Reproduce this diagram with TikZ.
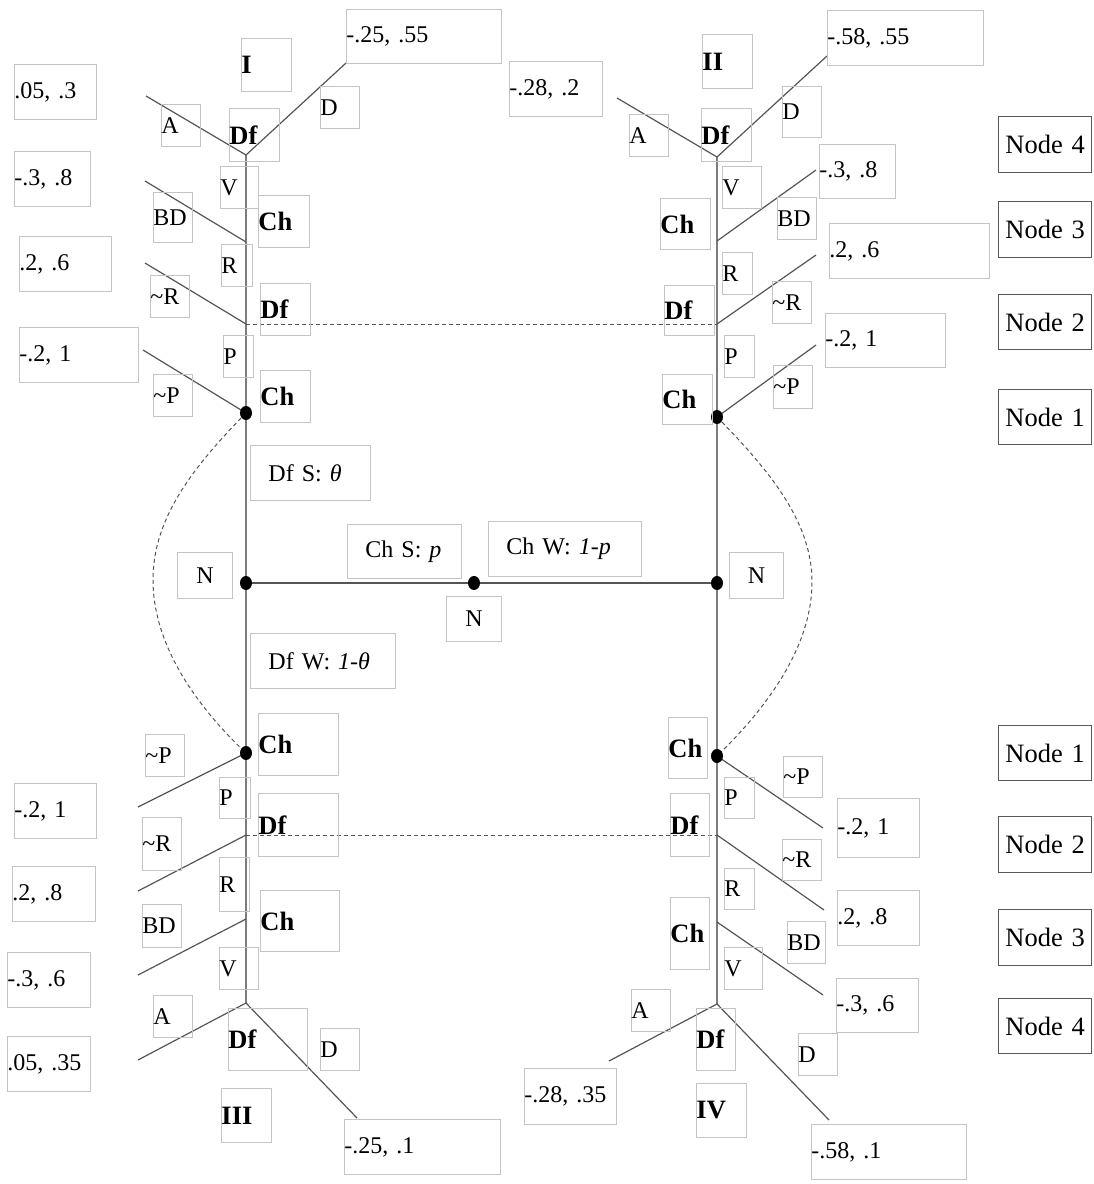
\documentclass[tikz,border=0pt]{standalone}
\usepackage{fontspec}
\setmainfont{Liberation Serif}
\definecolor{boxgray}{RGB}{196,196,196}
\definecolor{linegray}{RGB}{85,85,85}
\definecolor{trunkgray}{RGB}{125,125,125}
\begin{document}
\begin{tikzpicture}[x=1pt,y=-1pt,
	lbl/.style={draw=boxgray, line width=0.9pt, anchor=north west, inner xsep=0pt, inner ysep=0pt, align=left, font=\fontsize{24}{28}\selectfont},
	bld/.style={lbl, font=\fontsize{26.5}{30}\selectfont\bfseries},
	mid/.style={lbl, inner xsep=18pt},
	ctr/.style={lbl, align=center},
	stage/.style={draw=black!65, line width=1.4pt, anchor=north west, inner xsep=0pt, inner ysep=0pt, align=center, font=\fontsize{26.5}{30}\selectfont},
	branch/.style={linegray, line width=1.2pt},
	trunk/.style={trunkgray, line width=2pt},
	link/.style={linegray, line width=1pt, dash pattern=on 4pt off 3pt}]
	\useasboundingbox (0,0) rectangle (1094,1184);
	%
	% junctions and ends, tree I
	\coordinate (IDf) at (246,155);
	\coordinate (IA) at (146,96);
	\coordinate (ID) at (346,63);
	\coordinate (IBD) at (246,242);
	\coordinate (IBDe) at (145,181);
	\coordinate (IR) at (246,324);
	\coordinate (IRe) at (145,263);
	\coordinate (IP) at (246,413);
	\coordinate (IPe) at (143,350);
	% tree II
	\coordinate (IIDf) at (717,157);
	\coordinate (IIA) at (617,98);
	\coordinate (IID) at (827,56);
	\coordinate (IIBD) at (717,241);
	\coordinate (IIBDe) at (816,170);
	\coordinate (IIR) at (717,324);
	\coordinate (IIRe) at (816,255);
	\coordinate (IIP) at (717,417);
	\coordinate (IIPe) at (816,345);
	% tree III
	\coordinate (IIIP) at (246,753);
	\coordinate (IIIPe) at (138,807);
	\coordinate (IIIR) at (246,835);
	\coordinate (IIIRe) at (138,891);
	\coordinate (IIIBD) at (246,919);
	\coordinate (IIIBDe) at (138,975);
	\coordinate (IIIDf) at (246,1003);
	\coordinate (IIIA) at (138,1060);
	\coordinate (IIID) at (357,1118);
	% tree IV
	\coordinate (IVP) at (717,756);
	\coordinate (IVPe) at (823,828);
	\coordinate (IVR) at (717,835);
	\coordinate (IVRe) at (824,910);
	\coordinate (IVBD) at (717,922);
	\coordinate (IVBDe) at (823,995);
	\coordinate (IVDf) at (717,1004);
	\coordinate (IVA) at (609,1061);
	\coordinate (IVD) at (829,1120);
	% nature
	\coordinate (NI) at (246,583);
	\coordinate (NII) at (717,583);
	\coordinate (Nc) at (474,583);
	%
	\draw[trunk] (IDf) -- (IIIDf);
	\draw[trunk] (IIDf) -- (IVDf);
	\draw[linegray, line width=2pt] (NI) -- (NII);
	%
	\draw[branch] (IA) -- (IDf) -- (ID);
	\draw[branch] (IBDe) -- (IBD);
	\draw[branch] (IRe) -- (IR);
	\draw[branch] (IPe) -- (IP);
	\draw[branch] (IIA) -- (IIDf) -- (IID);
	\draw[branch] (IIBD) -- (IIBDe);
	\draw[branch] (IIR) -- (IIRe);
	\draw[branch] (IIP) -- (IIPe);
	\draw[branch] (IIIP) -- (IIIPe);
	\draw[branch] (IIIR) -- (IIIRe);
	\draw[branch] (IIIBD) -- (IIIBDe);
	\draw[branch] (IIIA) -- (IIIDf) -- (IIID);
	\draw[branch] (IVP) -- (IVPe);
	\draw[branch] (IVR) -- (IVRe);
	\draw[branch] (IVBD) -- (IVBDe);
	\draw[branch] (IVA) -- (IVDf) -- (IVD);
	%
	\draw[link] (IR) -- (IIR);
	\draw[link] (IIIR) -- (IVR);
	\draw[link] (IP) .. controls (190,470) and (153,520) .. (153,580) .. controls (153,640) and (190,700) .. (IIIP);
	\draw[link] (IIP) .. controls (773,474) and (812,524) .. (812,582) .. controls (812,642) and (773,702) .. (IVP);
	%
	\foreach \p in {IP,IIP,IIIP,IVP,NI,NII,Nc}
		\fill (\p) ellipse (6pt and 7pt);
	%
	% tree I
	\node[lbl, text width=82pt, minimum height=55pt] (payIA) at (14,64) {.05, .3};
	\node[lbl, text width=155pt, minimum height=54pt] (payID) at (346,9) {-.25, .55};
	\node[bld, text width=50pt, minimum height=53pt] (nameI) at (241,38) {I};
	\node[lbl, text width=39pt, minimum height=42pt] (lID) at (320,86) {D};
	\node[lbl, text width=39pt, minimum height=42pt] (lIA) at (161,104) {A};
	\node[bld, text width=50pt, minimum height=53pt] (mvI4) at (229,108) {Df};
	\node[lbl, text width=76pt, minimum height=55pt] (payIBD) at (14,151) {-.3, .8};
	\node[lbl, text width=38pt, minimum height=42pt] (lIV) at (220,166) {V};
	\node[bld, text width=51pt, minimum height=52pt] (mvI3) at (258,195) {Ch};
	\node[lbl, text width=39pt, minimum height=50pt] (lIBD) at (153,192) {BD};
	\node[lbl, text width=31pt, minimum height=42pt] (lIR) at (221,244) {R};
	\node[lbl, text width=92pt, minimum height=55pt] (payIR) at (19,236) {.2, .6};
	\node[lbl, text width=39pt, minimum height=42pt] (lInR) at (150,275) {\textasciitilde R};
	\node[bld, text width=50pt, minimum height=52pt] (mvI2) at (260,283) {Df};
	\node[lbl, text width=30pt, minimum height=42pt] (lIP) at (223,335) {P};
	\node[lbl, text width=119pt, minimum height=55pt] (payIP) at (19,327) {-.2, 1};
	\node[lbl, text width=39pt, minimum height=42pt] (lInP) at (153,374) {\textasciitilde P};
	\node[bld, text width=50pt, minimum height=52pt] (mvI1) at (260,370) {Ch};
	%
	% nature
	\node[mid, text width=84pt, minimum height=55pt] (pDfS) at (250,445) {Df S: \textit{θ}};
	\node[ctr, text width=55pt, minimum height=46pt] (lNI) at (177,552) {N};
	\node[mid, text width=78pt, minimum height=54pt] (pChS) at (347,524) {Ch S: \textit{p}};
	\node[mid, text width=117pt, minimum height=55pt] (pChW) at (488,521) {Ch W: \textit{1-p}};
	\node[ctr, text width=55pt, minimum height=45pt] (lNc) at (446,596) {N};
	\node[ctr, text width=54pt, minimum height=46pt] (lNII) at (729,552) {N};
	\node[mid, text width=109pt, minimum height=55pt] (pDfW) at (250,633) {Df W: \textit{1-θ}};
	%
	% tree II
	\node[lbl, text width=93pt, minimum height=55pt] (payIIA) at (509,61) {-.28, .2};
	\node[bld, text width=50pt, minimum height=54pt] (nameII) at (702,34) {II};
	\node[lbl, text width=156pt, minimum height=55pt] (payIID) at (827,10) {-.58, .55};
	\node[lbl, text width=39pt, minimum height=42pt] (lIIA) at (629,114) {A};
	\node[bld, text width=50pt, minimum height=53pt] (mvII4) at (701,108) {Df};
	\node[lbl, text width=39pt, minimum height=51pt] (lIID) at (782,86) {D};
	\node[lbl, text width=39pt, minimum height=42pt] (lIIV) at (722,166) {V};
	\node[lbl, text width=76pt, minimum height=54pt] (payIIBD) at (819,144) {-.3, .8};
	\node[bld, text width=50pt, minimum height=51pt] (mvII3) at (660,198) {Ch};
	\node[lbl, text width=39pt, minimum height=42pt] (lIIBD) at (777,197) {BD};
	\node[lbl, text width=30pt, minimum height=42pt] (lIIR) at (722,252) {R};
	\node[lbl, text width=160pt, minimum height=55pt] (payIIR) at (829,223) {.2, .6};
	\node[bld, text width=50pt, minimum height=50pt] (mvII2) at (664,285) {Df};
	\node[lbl, text width=39pt, minimum height=42pt] (lIInR) at (772,281) {\textasciitilde R};
	\node[lbl, text width=30pt, minimum height=42pt] (lIIP) at (724,335) {P};
	\node[lbl, text width=120pt, minimum height=54pt] (payIIP) at (825,313) {-.2, 1};
	\node[bld, text width=50pt, minimum height=50pt] (mvII1) at (662,374) {Ch};
	\node[lbl, text width=39pt, minimum height=43pt] (lIInP) at (773,365) {\textasciitilde P};
	%
	% stages
	\node[stage, text width=93pt, minimum height=56pt] (st4a) at (998,116) {Node 4};
	\node[stage, text width=93pt, minimum height=56pt] (st3a) at (998,201) {Node 3};
	\node[stage, text width=93pt, minimum height=55pt] (st2a) at (998,294) {Node 2};
	\node[stage, text width=93pt, minimum height=55pt] (st1a) at (998,389) {Node 1};
	\node[stage, text width=93pt, minimum height=55pt] (st1b) at (998,725) {Node 1};
	\node[stage, text width=93pt, minimum height=56pt] (st2b) at (998,816) {Node 2};
	\node[stage, text width=93pt, minimum height=56pt] (st3b) at (998,909) {Node 3};
	\node[stage, text width=93pt, minimum height=55pt] (st4b) at (998,998) {Node 4};
	%
	% tree III
	\node[bld, text width=80pt, minimum height=62pt] (mvIII1) at (258,713) {Ch};
	\node[lbl, text width=39pt, minimum height=42pt] (lIIInP) at (145,734) {\textasciitilde P};
	\node[lbl, text width=31pt, minimum height=41pt] (lIIIP) at (219,777) {P};
	\node[lbl, text width=82pt, minimum height=55pt] (payIIIP) at (14,783) {-.2, 1};
	\node[bld, text width=80pt, minimum height=63pt] (mvIII2) at (258,793) {Df};
	\node[lbl, text width=39pt, minimum height=53pt] (lIIInR) at (142,817) {\textasciitilde R};
	\node[lbl, text width=30pt, minimum height=54pt] (lIIIR) at (219,857) {R};
	\node[lbl, text width=83pt, minimum height=55pt] (payIIIR) at (12,866) {.2, .8};
	\node[bld, text width=79pt, minimum height=61pt] (mvIII3) at (260,890) {Ch};
	\node[lbl, text width=39pt, minimum height=43pt] (lIIIBD) at (142,904) {BD};
	\node[lbl, text width=39pt, minimum height=42pt] (lIIIV) at (219,947) {V};
	\node[lbl, text width=83pt, minimum height=55pt] (payIIIBD) at (7,952) {-.3, .6};
	\node[lbl, text width=39pt, minimum height=42pt] (lIIIA) at (153,995) {A};
	\node[bld, text width=79pt, minimum height=62pt] (mvIII4) at (228,1008) {Df};
	\node[lbl, text width=39pt, minimum height=42pt] (lIIID) at (320,1028) {D};
	\node[lbl, text width=83pt, minimum height=55pt] (payIIIA) at (7,1036) {.05, .35};
	\node[bld, text width=50pt, minimum height=54pt] (nameIII) at (221,1088) {III};
	\node[lbl, text width=156pt, minimum height=55pt] (payIIID) at (344,1119) {-.25, .1};
	%
	% tree IV
	\node[bld, text width=39pt, minimum height=61pt] (mvIV1) at (668,717) {Ch};
	\node[lbl, text width=39pt, minimum height=41pt] (lIVnP) at (783,756) {\textasciitilde P};
	\node[lbl, text width=30pt, minimum height=41pt] (lIVP) at (724,777) {P};
	\node[lbl, text width=82pt, minimum height=59pt] (payIVP) at (837,798) {-.2, 1};
	\node[bld, text width=39pt, minimum height=63pt] (mvIV2) at (670,793) {Df};
	\node[lbl, text width=39pt, minimum height=41pt] (lIVnR) at (782,839) {\textasciitilde R};
	\node[lbl, text width=30pt, minimum height=41pt] (lIVR) at (724,868) {R};
	\node[lbl, text width=82pt, minimum height=55pt] (payIVR) at (837,890) {.2, .8};
	\node[bld, text width=39pt, minimum height=72pt] (mvIV3) at (670,897) {Ch};
	\node[lbl, text width=38pt, minimum height=42pt] (lIVBD) at (787,921) {BD};
	\node[lbl, text width=38pt, minimum height=42pt] (lIVV) at (724,947) {V};
	\node[lbl, text width=82pt, minimum height=54pt] (payIVBD) at (836,978) {-.3, .6};
	\node[lbl, text width=39pt, minimum height=42pt] (lIVA) at (631,989) {A};
	\node[bld, text width=39pt, minimum height=62pt] (mvIV4) at (696,1008) {Df};
	\node[lbl, text width=39pt, minimum height=42pt] (lIVD) at (798,1033) {D};
	\node[lbl, text width=92pt, minimum height=56pt] (payIVA) at (524,1068) {-.28, .35};
	\node[bld, text width=50pt, minimum height=54pt] (nameIV) at (696,1083) {IV};
	\node[lbl, text width=155pt, minimum height=55pt] (payIVD) at (811,1124) {-.58, .1};
	%
\end{tikzpicture}
\end{document}
